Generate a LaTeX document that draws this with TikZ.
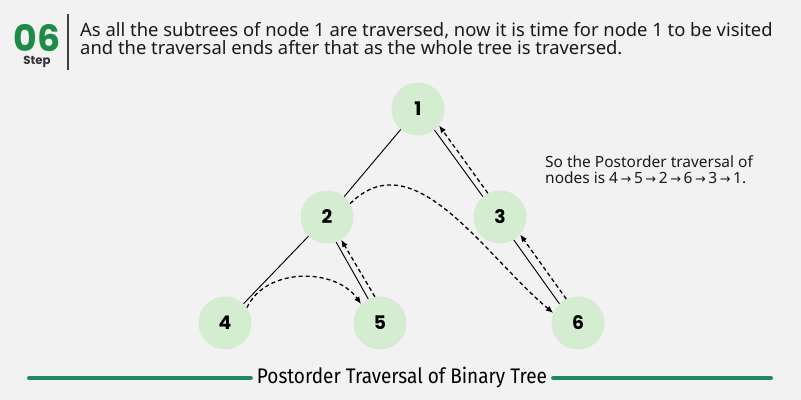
\documentclass[tikz,border=0pt]{standalone}
\usepackage{fontspec}
\usetikzlibrary{arrows.meta}
\setmainfont{Noto Sans}
\newfontfamily\numfont{Poppins}
\newfontfamily\capfont[FakeStretch=0.9]{Fira Sans}
\newfontfamily\arrfont{DejaVu Sans}
\definecolor{stepgreen}{HTML}{1E8C46}
\definecolor{linegreen}{HTML}{1F8A5F}
\definecolor{nodegreen}{HTML}{D4ECD0}
\definecolor{bggray}{HTML}{F2F2F2}
\newcommand{\ra}{{\arrfont\fontsize{11}{11}\selectfont →}}

\begin{document}
\begin{tikzpicture}[x=0.03cm,y=-0.03cm,
    treenode/.style={circle,fill=nodegreen,minimum size=53*0.03cm,inner sep=0pt,
        font=\numfont\bfseries\fontsize{16}{16}\selectfont},
    edge/.style={line width=0.8pt},
    walk/.style={dashed,line width=1.1pt,dash pattern=on 3.5pt off 2.5pt,
        -{Latex[length=2.2mm,width=1.8mm]}}]
    \fill[bggray] (0,0) rectangle (801,400);
    % header
    \node[anchor=base,inner sep=0pt,text height=21pt,text depth=0pt,text=stepgreen,
        font=\numfont\bfseries\fontsize{31}{31}\selectfont] (num) at (37,52) {06};
    \node[anchor=base,inner sep=0pt,text height=7pt,text depth=2pt,text=black!80,
        font=\numfont\bfseries\fontsize{10}{10}\selectfont] (steplbl) at (37,65) {Step};
    \coordinate (bartop) at (68,14);
    \coordinate (barbot) at (68,70);
    \draw[line width=1.6pt,black!75] (bartop) -- (barbot);
    \node[anchor=base west,inner sep=0pt,align=left,text=black!90,
        font=\fontsize{15.7}{15}\selectfont] (desc) at (80,54.3)
        {As all the subtrees of node 1 are traversed, now it is time for node 1 to be visited\\
         and the traversal ends after that as the whole tree is traversed.};
    % tree
    \node[treenode] (n1) at (418,109) {1};
    \node[treenode] (n2) at (327,217) {2};
    \node[treenode] (n3) at (500,217) {3};
    \node[treenode] (n4) at (225,323) {4};
    \node[treenode] (n5) at (380,323) {5};
    \node[treenode] (n6) at (578,323) {6};
    \draw[edge] (n1) -- (n2);
    \draw[edge] (n2) -- (n4);
    \draw[edge] (n2.-70) -- (n5.116);
    \draw[edge] (n1.-52) -- (n3.130);
    \draw[edge] (n3.-59) -- (n6.134);
    % traversal
    \draw[walk] (n4.35) to[out=65,in=125] (n5.135);
    \draw[walk] (n5.101) -- (n2.-58);
    \draw[walk] (n2.30) to[out=45,in=140] (n6.158);
    \draw[walk] (n6.116) -- (n3.-41);
    \draw[walk] (n3.117) -- (n1.-38);
    \node[anchor=base west,inner sep=0pt,align=left,text=black!90,
        font=\fontsize{13.2}{14.5}\selectfont] (result) at (545,184)
        {So the Postorder traversal of\\
         nodes is 4\,\ra\,5\,\ra\,2\,\ra\,6\,\ra\,3\,\ra\,1.};
    % caption
    \node[inner xsep=5pt,text=black,font=\capfont\fontsize{18}{18}\selectfont] (cap) at (402,378)
        {Postorder Traversal of Binary Tree};
    \coordinate (capl) at (29,378);
    \coordinate (capr) at (771,378);
    \draw[linegreen,line width=3.4pt,line cap=round] (capl) -- (cap.west);
    \draw[linegreen,line width=3.4pt,line cap=round] (cap.east) -- (capr);
\end{tikzpicture}
\end{document}
